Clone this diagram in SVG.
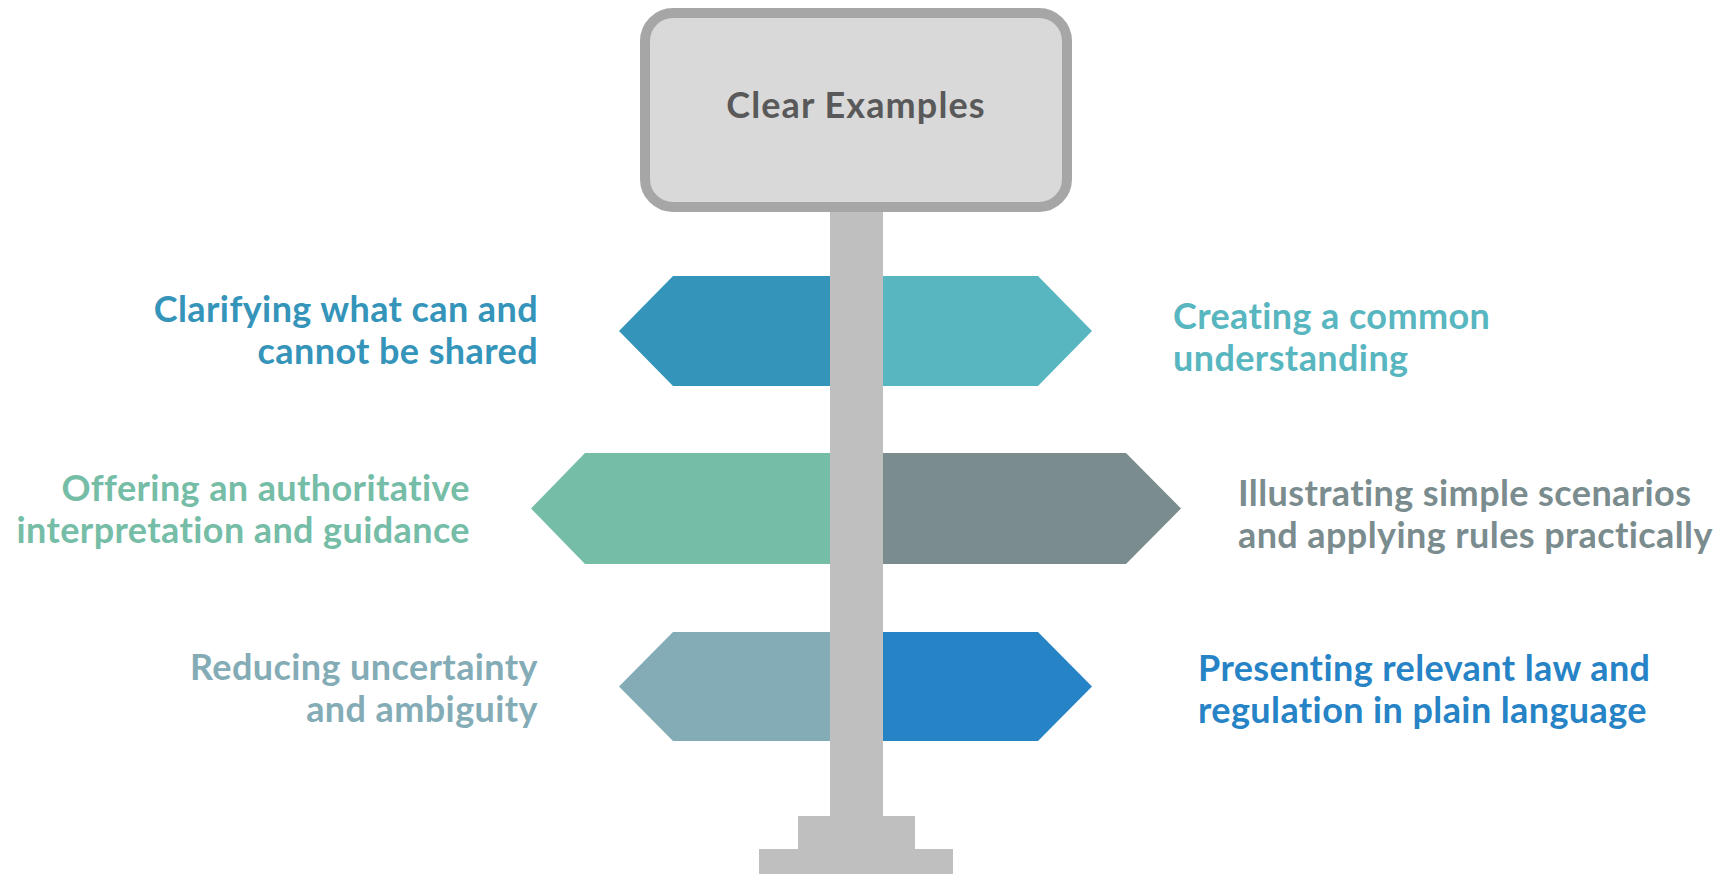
<svg xmlns="http://www.w3.org/2000/svg" width="1730" height="874" viewBox="0 0 1730 874">
  <style>
    .lbl { font-family: Lato, "Open Sans", "Liberation Sans", sans-serif; font-weight: 700; font-size: 36px; letter-spacing: 0.4px; }
    .end { text-anchor: end; }
    .title { font-family: Lato, "Open Sans", "Liberation Sans", sans-serif; font-weight: 700; font-size: 36px; letter-spacing: 1.1px; text-anchor: middle; }
    .post { fill: #bfbfbf; }
  </style>
  <rect width="1730" height="874" fill="#ffffff"/>

  <!-- sign arms, drawn first so the post covers their inner ends -->
  <g id="arm-clarifying">
    <polygon points="830,276 673,276 619,331 673,386 830,386" fill="#3494BA"/>
    <text class="lbl end" x="538" y="322" fill="#3494BA">Clarifying what can and</text>
    <text class="lbl end" x="538" y="364" fill="#3494BA">cannot be shared</text>
  </g>
  <g id="arm-common">
    <polygon points="883,276 1038,276 1092,331 1038,386 883,386" fill="#58B6C0"/>
    <text class="lbl" x="1173" y="329" fill="#58B6C0">Creating a common</text>
    <text class="lbl" x="1173" y="371" fill="#58B6C0">understanding</text>
  </g>
  <g id="arm-authoritative">
    <polygon points="830,453 585,453 531,508.5 585,564 830,564" fill="#75BDA7"/>
    <text class="lbl end" x="470" y="501" fill="#75BDA7">Offering an authoritative</text>
    <text class="lbl end" x="470" y="543" fill="#75BDA7">interpretation and guidance</text>
  </g>
  <g id="arm-scenarios">
    <polygon points="883,453 1126,453 1181,508.5 1126,564 883,564" fill="#7A8C8E"/>
    <text class="lbl" x="1238" y="506" fill="#7A8C8E">Illustrating simple scenarios</text>
    <text class="lbl" x="1238" y="548" fill="#7A8C8E">and applying rules practically</text>
  </g>
  <g id="arm-uncertainty">
    <polygon points="830,632 673,632 619,686.5 673,741 830,741" fill="#84ACB6"/>
    <text class="lbl end" x="538" y="680" fill="#84ACB6">Reducing uncertainty</text>
    <text class="lbl end" x="538" y="722" fill="#84ACB6">and ambiguity</text>
  </g>
  <g id="arm-plain-language">
    <polygon points="883,632 1038,632 1092,686.5 1038,741 883,741" fill="#2683C6"/>
    <text class="lbl" x="1198" y="681" fill="#2683C6">Presenting relevant law and</text>
    <text class="lbl" x="1198" y="723" fill="#2683C6">regulation in plain language</text>
  </g>

  <!-- post with stepped base -->
  <g id="post">
    <rect class="post" x="830" y="212" width="53" height="606"/>
    <rect class="post" x="798" y="816" width="117" height="34"/>
    <rect class="post" x="759" y="849" width="194" height="25"/>
  </g>

  <!-- heading board -->
  <g id="board">
    <rect x="645" y="13" width="422" height="194" rx="28" ry="28" fill="#d9d9d9" stroke="#a6a6a6" stroke-width="10"/>
    <text class="title" x="856" y="118" fill="#595959">Clear Examples</text>
  </g>
</svg>
